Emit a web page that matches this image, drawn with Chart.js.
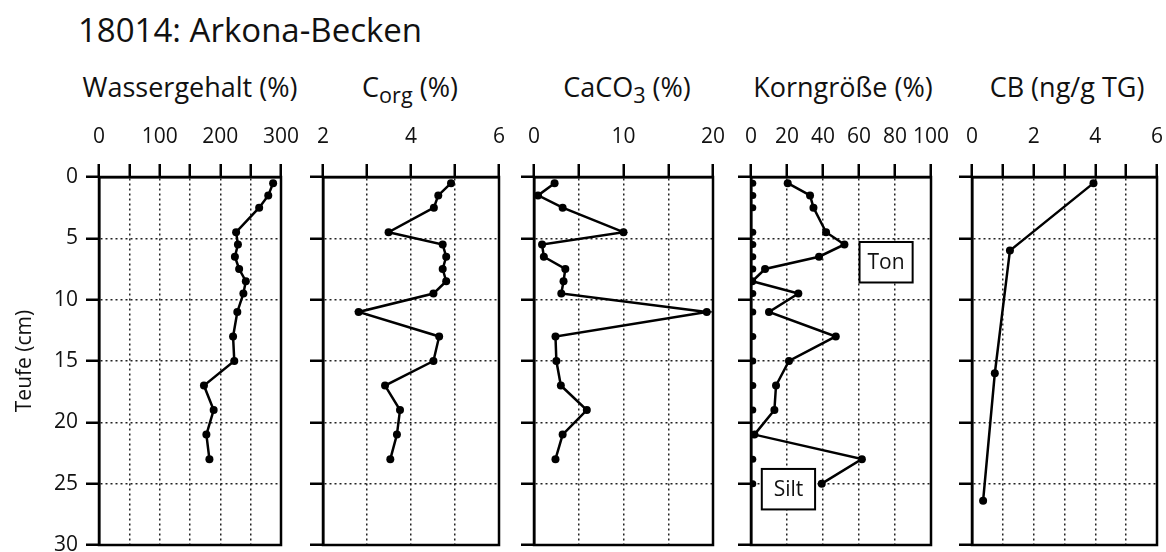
<!DOCTYPE html>
<html>
<head>
<meta charset="utf-8">
<script src="https://cdn.jsdelivr.net/npm/chart.js@4.4.0/dist/chart.umd.min.js"></script>
<style>
body { margin: 0; background: #fff; }
#wrap { position: relative; width: 1166px; height: 552px; font-family: "Open Sans", sans-serif; color: #111; }
canvas { position: absolute; left: 0; top: 0; }
.titel { position: absolute; left: 78px; top: 13px; font-size: 33px; line-height: 1; white-space: nowrap; }
.kopf { position: absolute; top: 73px; font-size: 27px; line-height: 1; white-space: nowrap; transform: translateX(-50%); }
.kopf sub { font-size: 0.8em; vertical-align: -0.3em; line-height: 0; }
</style>
</head>
<body>
<div id="wrap">
  <div class="titel">18014: Arkona-Becken</div>
  <div class="kopf" style="left:190px">Wassergehalt (%)</div>
  <div class="kopf" style="left:410px">C<sub>org</sub> (%)</div>
  <div class="kopf" style="left:627px">CaCO<sub>3</sub> (%)</div>
  <div class="kopf" style="left:843px">Korngröße (%)</div>
  <div class="kopf" style="left:1067px">CB (ng/g TG)</div>
  <canvas id="p1" width="1166" height="552"></canvas>
  <canvas id="p2" width="1166" height="552"></canvas>
  <canvas id="p3" width="1166" height="552"></canvas>
  <canvas id="p4" width="1166" height="552"></canvas>
  <canvas id="p5" width="1166" height="552"></canvas>
</div>
<script>
// Teufe der Proben (cm)
var teufe = [0.5, 1.5, 2.5, 4.5, 5.5, 6.5, 7.5, 8.5, 9.5, 11, 13, 15, 17, 19, 21, 23];
var wassergehalt = [287, 279, 264, 226, 229, 224, 231, 242, 238, 228, 221, 223, 173, 189, 177, 182];
var corg = [4.91, 4.62, 4.52, 3.49, 4.72, 4.80, 4.72, 4.80, 4.51, 2.81, 4.64, 4.51, 3.41, 3.75, 3.68, 3.53];
var caco3 = [2.3, 0.45, 3.2, 10.0, 0.9, 1.1, 3.5, 3.3, 3.05, 19.3, 2.4, 2.5, 3.0, 5.9, 3.2, 2.4];

var kornTeufe = [0.5, 1.5, 2.5, 4.5, 5.5, 6.5, 7.5, 8.5, 9.5, 11, 13, 15, 17, 19, 21, 23, 25];
var kornLinie = [20.4, 32.8, 34.7, 41.7, 51.9, 37.8, 7.8, 0.7, 26.3, 10.0, 47.1, 21.1, 13.9, 13.0, 1.9, 61.6, 39.3];
var sandTeufe = [0.5, 1.5, 2.5, 4.5, 5.5, 6.5, 7.5, 9.5, 11, 13, 15, 17, 19, 23, 25];
var sand = [1, 1, 1, 1, 1, 1, 1, 1, 1, 1, 1, 1, 1, 1, 1];

var cbTeufe = [0.5, 6, 16, 26.4];
var cb = [3.94, 1.23, 0.74, 0.36];

// Achsenbeschriftungen
var teufeLabels = [0, 5, 10, 15, 20, 25, 30];
var wasserLabels = [0, 100, 200, 300];
var corgLabels = [2, 4, 6];
var caco3Labels = [0, 10, 20];
var kornLabels = [0, 20, 40, 60, 80, 100];
var cbLabels = [0, 2, 4, 6];

var schrift = '"Open Sans", sans-serif';

function punkte(t, w) {
    return t.map(function (d, i) { return { x: w[i], y: d }; });
}

var rahmen = {
    id: 'rahmen',
    beforeDatasetsDraw: function (chart) {
        var a = chart.chartArea;
        var ctx = chart.ctx;
        ctx.save();
        ctx.lineWidth = 2.5;
        ctx.strokeStyle = '#000';
        ctx.strokeRect(a.left, a.top, a.right - a.left, a.bottom - a.top);
        ctx.restore();
    }
};

var kasten = {
    id: 'kasten',
    afterDatasetsDraw: function (chart, args, opts) {
        var boxes = opts.boxes || [];
        var ctx = chart.ctx;
        var sx = chart.scales.x, sy = chart.scales.y;
        boxes.forEach(function (b) {
            var x1 = sx.getPixelForValue(b.x0), x2 = sx.getPixelForValue(b.x1);
            var y1 = sy.getPixelForValue(b.y0), y2 = sy.getPixelForValue(b.y1);
            ctx.save();
            ctx.fillStyle = '#fff';
            ctx.fillRect(x1, y1, x2 - x1, y2 - y1);
            ctx.lineWidth = 2;
            ctx.strokeStyle = '#000';
            ctx.strokeRect(x1, y1, x2 - x1, y2 - y1);
            ctx.fillStyle = '#111';
            ctx.font = '21px ' + schrift;
            ctx.textAlign = 'center';
            ctx.textBaseline = 'middle';
            ctx.fillText(b.text, (x1 + x2) / 2, (y1 + y2) / 2 + 1);
            ctx.restore();
        });
    }
};

function linie(t, w) {
    return {
        data: punkte(t, w),
        borderColor: '#000',
        backgroundColor: '#000',
        borderWidth: 2.5,
        pointRadius: 4,
        pointBorderWidth: 0,
        pointBackgroundColor: '#000',
        tension: 0
    };
}

function keinRand(s) {
    s.paddingTop = 0;
    s.paddingBottom = 0;
    s.paddingLeft = 0;
    s.paddingRight = 0;
}

function panel(id, links, rechts, xmin, xmax, schritt, xLabels, datasets, zeigeY, boxes) {
    new Chart(document.getElementById(id), {
        type: 'line',
        data: { datasets: datasets },
        options: {
            responsive: false,
            animation: false,
            indexAxis: 'y',
            events: [],
            layout: { padding: { left: links - 99, right: 1166 - rechts, top: 60, bottom: 7 } },
            plugins: {
                legend: { display: false },
                tooltip: { enabled: false },
                kasten: { boxes: boxes || [] }
            },
            scales: {
                x: {
                    type: 'linear',
                    position: 'top',
                    min: xmin,
                    max: xmax,
                    afterFit: function (s) { s.height = 117; keinRand(s); },
                    ticks: {
                        stepSize: schritt,
                        autoSkip: false,
                        maxRotation: 0,
                        minRotation: 0,
                        padding: 14,
                        color: '#111',
                        font: { family: schrift, size: 21 },
                        callback: function (v) { return xLabels.indexOf(v) >= 0 ? String(v) : ''; }
                    },
                    grid: {
                        color: '#222',
                        lineWidth: 1.5,
                        tickLength: 13,
                        tickWidth: 2.5,
                        tickColor: '#000',
                        tickBorderDash: []
                    },
                    border: { display: true, color: '#000', width: 2.5, dash: [2, 3] }
                },
                y: {
                    type: 'linear',
                    reverse: true,
                    min: 0,
                    max: 30,
                    afterFit: function (s) { s.width = 99; keinRand(s); },
                    title: {
                        display: zeigeY,
                        text: 'Teufe (cm)',
                        color: '#111',
                        font: { family: schrift, size: 21 },
                        padding: { top: 12, bottom: 0 }
                    },
                    ticks: {
                        stepSize: 5,
                        autoSkip: false,
                        padding: 8,
                        color: '#111',
                        font: { family: schrift, size: 21 },
                        callback: function (v) { return zeigeY && teufeLabels.indexOf(v) >= 0 ? String(v) : ''; }
                    },
                    grid: {
                        color: '#222',
                        lineWidth: 1.5,
                        tickLength: 13,
                        tickWidth: 2.5,
                        tickColor: '#000',
                        tickBorderDash: []
                    },
                    border: { display: true, color: '#000', width: 2.5, dash: [2, 3] }
                }
            }
        },
        plugins: [rahmen, kasten]
    });
}

panel('p1', 99, 281, 0, 300, 50, wasserLabels, [linie(teufe, wassergehalt)], true);
panel('p2', 323, 499, 2, 6, 1, corgLabels, [linie(teufe, corg)], false);
panel('p3', 534, 713, 0, 20, 5, caco3Labels, [linie(teufe, caco3)], false);

var sandSet = linie(sandTeufe, sand);
sandSet.showLine = false;
sandSet.pointRadius = 3.5;
panel('p4', 751, 931, 0, 100, 20, kornLabels, [linie(kornTeufe, kornLinie), sandSet], false, [
    { x0: 60.3, x1: 89.8, y0: 5.3, y1: 8.6, text: 'Ton' },
    { x0: 6, x1: 35.6, y0: 23.8, y1: 27.1, text: 'Silt' }
]);
panel('p5', 972, 1157, 0, 6, 1, cbLabels, [linie(cbTeufe, cb)], false);
</script>
</body>
</html>
